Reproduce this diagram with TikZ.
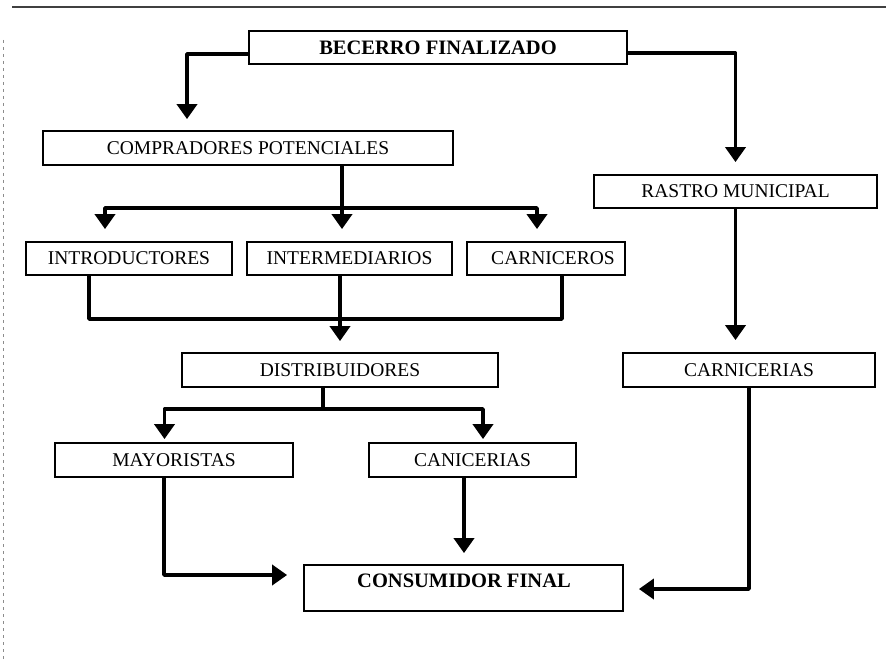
\documentclass[tikz,border=0pt]{standalone}
\usepackage{fontspec}
\setmainfont{Liberation Serif}
\usetikzlibrary{arrows.meta}
\tikzset{
  box/.style={draw=black, line width=1.8pt, fill=white, inner sep=0pt,
    font=\fontsize{19.5}{23}\selectfont, text=black},
  bbox/.style={box, font=\fontsize{20.5}{24}\selectfont\bfseries},
  conn/.style={draw=black, line width=3.8pt, line join=round},
  arr/.style={conn, -{Triangle[width=20pt,length=15pt]}},
}
\begin{document}
\begin{tikzpicture}[x=1pt, y=-1pt]
\useasboundingbox[fill=white] (0,0) rectangle (886,663);
% scan border lines
\draw[line width=1.6pt, black!75] (12,7) -- (886,7);
\draw[line width=0.6pt, black!45, dash pattern=on 3pt off 4pt] (3,40) -- (3,663);
% boxes
\node[bbox, minimum width=378pt, minimum height=33pt] (bec) at (438,47.5) {BECERRO FINALIZADO};
\node[box, minimum width=410pt, minimum height=34pt] (comp) at (248,148) {COMPRADORES POTENCIALES};
\node[box, minimum width=283pt, minimum height=33pt] (rastro) at (735.5,191.5) {RASTRO MUNICIPAL};
\node[box, minimum width=206pt, minimum height=33pt] (intro) at (129,258.5) {INTRODUCTORES};
\node[box, minimum width=205pt, minimum height=33pt] (inter) at (349.5,258.5) {INTERMEDIARIOS};
\node[box, minimum width=158pt, minimum height=33pt] (carn) at (546,258.5) {\hspace*{14pt}CARNICEROS};
\node[box, minimum width=316pt, minimum height=34pt] (dist) at (340,370) {DISTRIBUIDORES};
\node[box, minimum width=252pt, minimum height=34pt] (carnic) at (749,370) {CARNICERIAS};
\node[box, minimum width=238pt, minimum height=34pt] (may) at (174,460) {MAYORISTAS};
\node[box, minimum width=207pt, minimum height=34pt] (canic) at (472.5,460) {CANICERIAS};
\node[box, minimum width=319pt, minimum height=46pt] (cons) at (463.5,588) {};
\node[font=\fontsize{20.5}{24}\selectfont\bfseries, inner sep=0pt] (consT) at (464,581) {CONSUMIDOR FINAL};
% junction coordinates
\coordinate (j1) at (342,208);
\coordinate (j2) at (340,319);
\coordinate (j3) at (323,409);
% connectors
\draw[arr, shorten >=11pt] ([yshift=-6.5pt]bec.west) -| ([xshift=-61pt]comp.north);
\draw[arr, shorten >=12pt] ([yshift=-5.5pt]bec.east) -| (rastro.north);
\draw[conn] (comp.south -| j1) -- (j1);
\draw[arr, shorten >=12pt] (j1) -| ([xshift=-24pt]intro.north);
\draw[arr, shorten >=12pt] (j1) -- ([xshift=-7.5pt]inter.north);
\draw[arr, shorten >=12pt] (j1) -| ([xshift=-9pt]carn.north);
\draw[conn] ([xshift=-40pt]intro.south) |- (j2) -| ([xshift=16pt]carn.south);
\draw[arr, shorten >=11pt] ([xshift=-9.5pt]inter.south) -- (dist.north);
\draw[arr, shorten >=12pt] (rastro.south) -- (carnic.north -| rastro.south);
\draw[conn] ([xshift=-17pt]dist.south) -- (j3);
\draw[arr, shorten >=3pt] (j3) -| ([xshift=-9.5pt]may.north);
\draw[arr, shorten >=3pt] (j3) -| ([xshift=10.5pt]canic.north);
\draw[arr, shorten >=16pt] ([xshift=-10pt]may.south) |- ([yshift=13pt]cons.west);
\draw[arr, shorten >=11pt] ([xshift=-8.5pt]canic.south) -- ([xshift=0.5pt]cons.north);
\draw[arr, shorten >=15pt] (carnic.south) |- ([yshift=-1pt]cons.east);
\end{tikzpicture}
\end{document}
